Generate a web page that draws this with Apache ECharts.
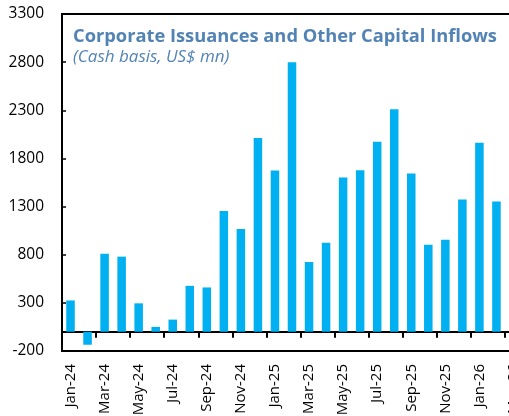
<!DOCTYPE html>
<html><head><meta charset="utf-8">
<script src="https://cdn.jsdelivr.net/npm/echarts@6/dist/echarts.min.js"></script>
<style>html,body{margin:0;padding:0;background:#fff}#c{width:509px;height:416px}</style>
</head><body><div id="c"></div>
<script>
const categories = ['Jan-24','Feb-24','Mar-24','Apr-24','May-24','Jun-24','Jul-24','Aug-24','Sep-24','Oct-24','Nov-24','Dec-24',
  'Jan-25','Feb-25','Mar-25','Apr-25','May-25','Jun-25','Jul-25','Aug-25','Sep-25','Oct-25','Nov-25','Dec-25',
  'Jan-26','Feb-26','Mar-26'];
const inflows = [325,-135,810,780,295,50,126,477,460,1255,1067,2012,
  1675,2800,724,925,1602,1678,1974,2310,1644,904,956,1373,
  1963,1352,null];
const titleText = 'Corporate Issuances and Other Capital Inflows';
const subtitleText = '(Cash basis, US$ mn)';

const FONT = 'Open Sans';
const chart = echarts.init(document.getElementById('c'), null, {renderer:'canvas'});
chart.setOption({
  animation: false,
  backgroundColor: '#fff',
  title: {
    text: titleText, subtext: subtitleText, left: 68, top: 23, itemGap: 3,
    textStyle: {fontFamily: FONT, fontWeight: 'bold', fontSize: 18.3, color: '#5283b5'},
    subtextStyle: {fontFamily: FONT, fontStyle: 'italic', fontSize: 17, color: '#5283b5'}
  },
  grid: {left: 62, top: 14, width: 460, height: 337, outerBoundsMode: 'none', containLabel: false,
    show: true, borderColor: '#000', borderWidth: 2, backgroundColor: 'transparent'},
  xAxis: [{
    type: 'category', data: categories, position: 'bottom',
    axisLine: {onZero: false, lineStyle: {color: '#000', width: 2}},
    axisTick: {show: false},
    axisLabel: {interval: 1, rotate: 90, fontFamily: FONT, fontSize: 15, color: '#000', margin: 13}
  }, {
    type: 'category', data: categories, position: 'top',
    axisLine: {onZero: true, lineStyle: {color: '#000', width: 2}},
    axisTick: {show: true, inside: true, interval: 1, length: 6, lineStyle: {color: '#000', width: 2}},
    axisLabel: {show: false}
  }],
  yAxis: {
    type: 'value', min: -200, max: 3300, interval: 500,
    axisLine: {show: true, lineStyle: {color: '#000', width: 2}},
    axisTick: {show: true, inside: true, length: 4, lineStyle: {color: '#000', width: 1.5}},
    splitLine: {show: false},
    axisLabel: {fontFamily: FONT, fontSize: 15.5, color: '#000', margin: 18, formatter: v => String(v)}
  },
  series: [{
    type: 'bar', data: inflows, xAxisIndex: 0, barWidth: '50%',
    itemStyle: {color: '#00B0F0'}
  }]
});
</script></body></html>
